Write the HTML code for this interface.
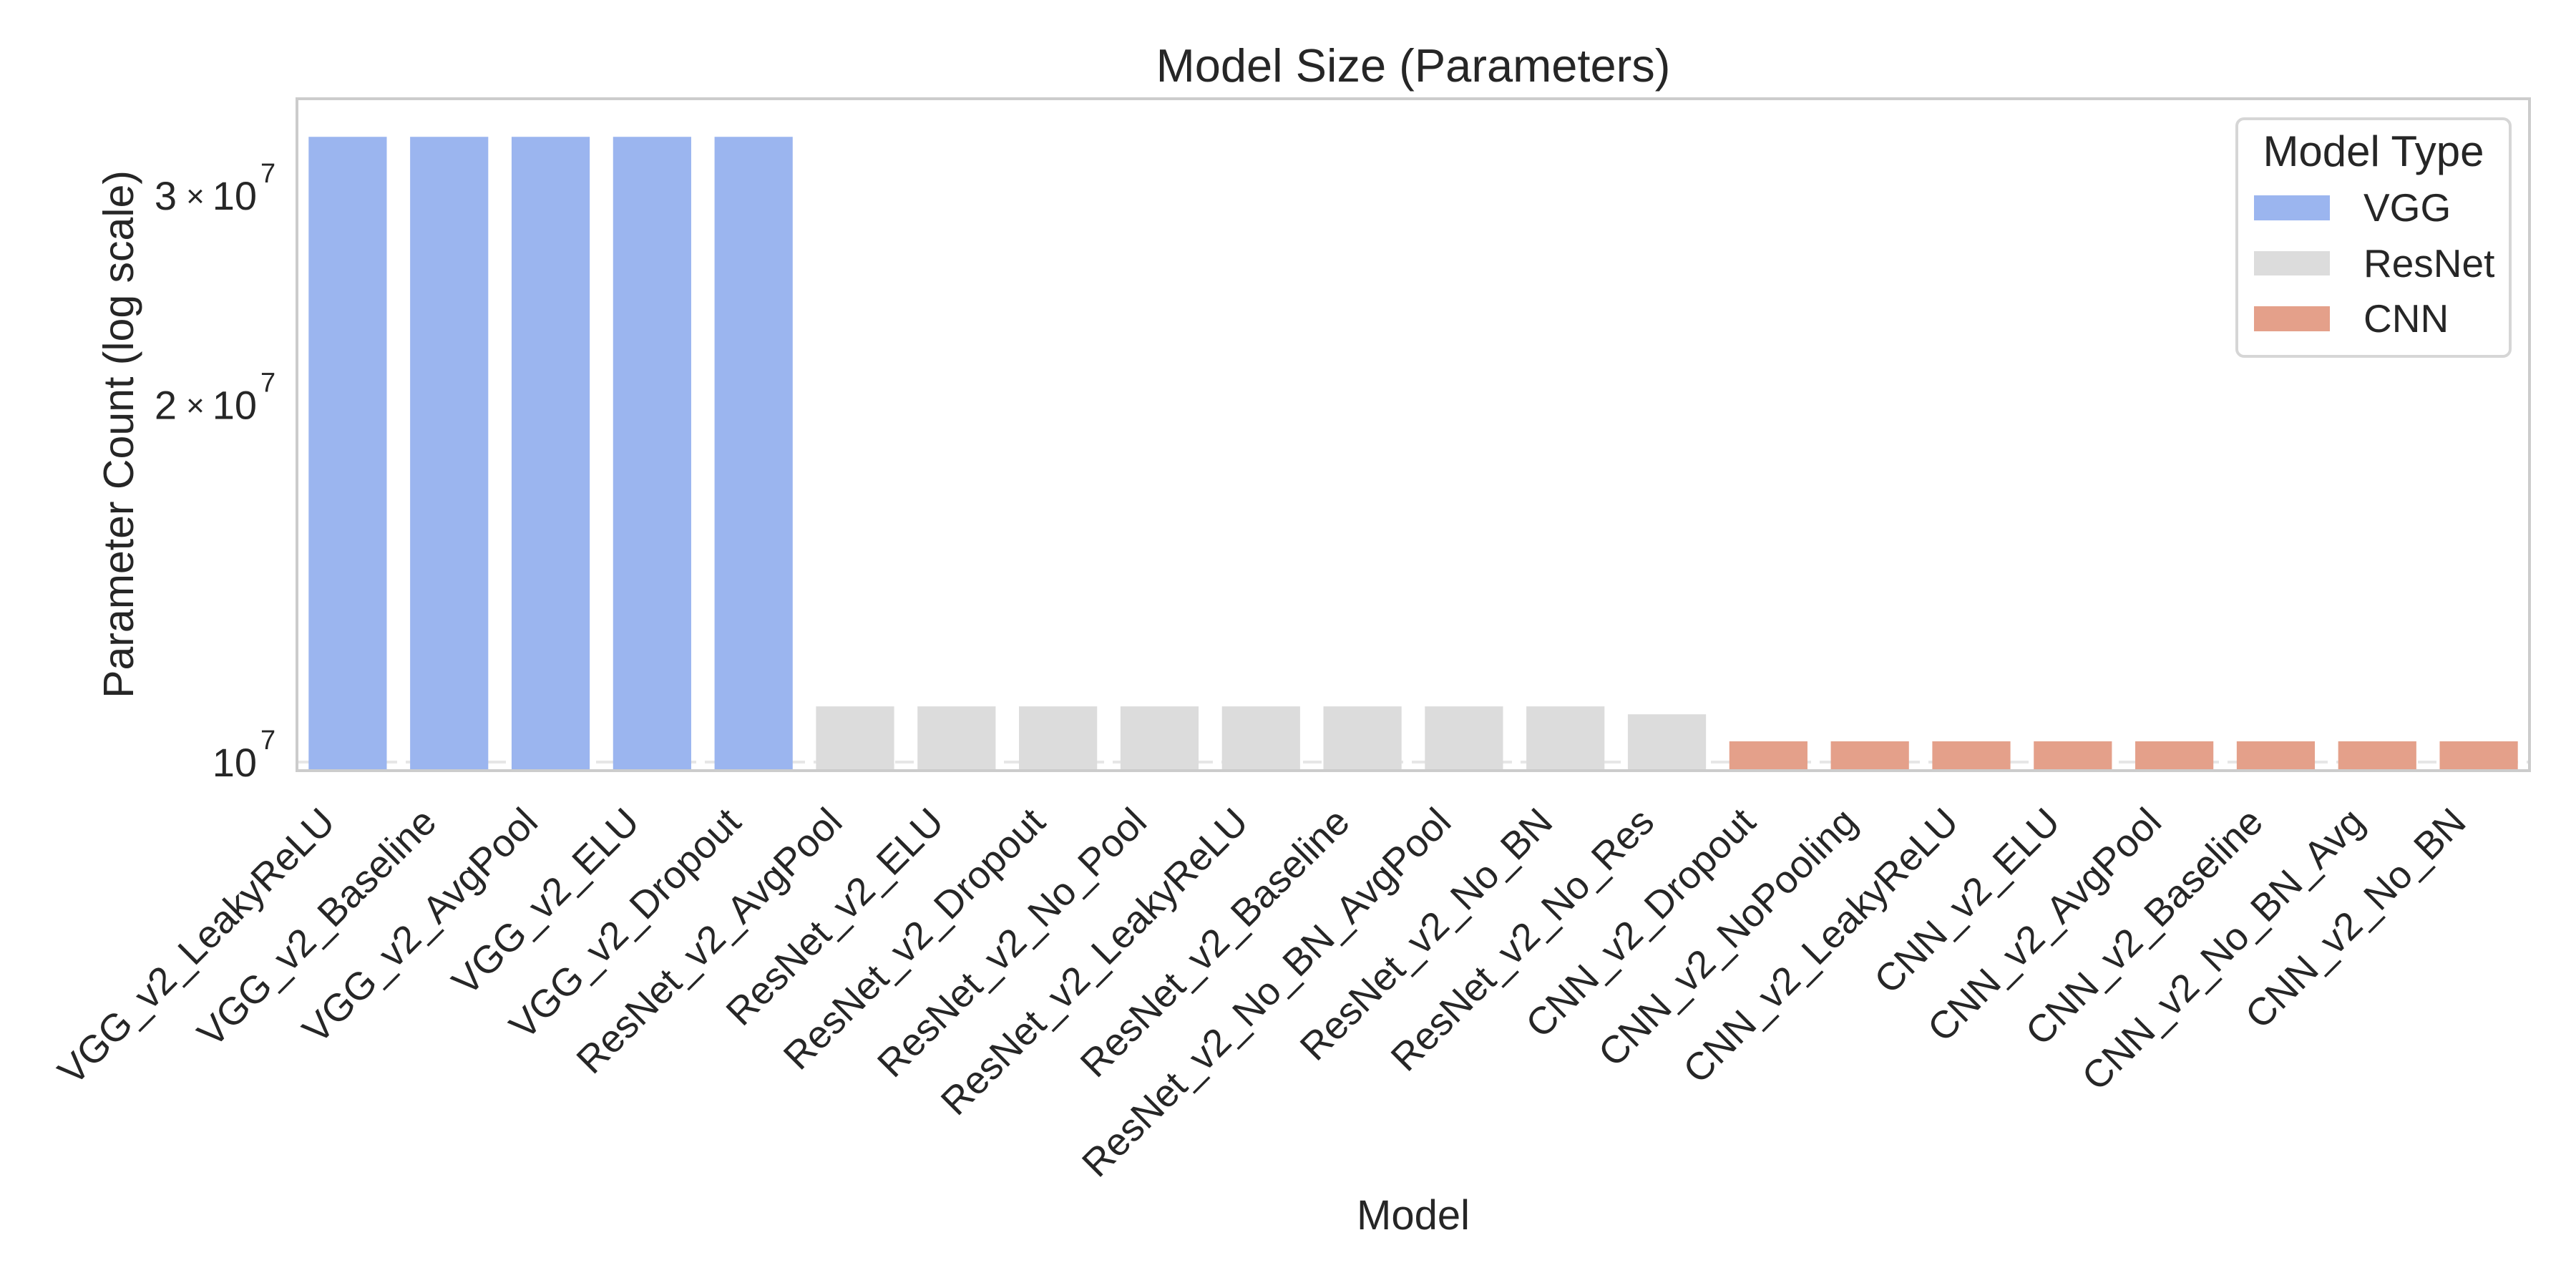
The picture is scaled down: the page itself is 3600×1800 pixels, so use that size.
<!DOCTYPE html>
<html><head><meta charset="utf-8"><style>
html,body{margin:0;padding:0;background:#fff;}
svg{display:block;font-family:"Liberation Sans",Arial,sans-serif;}
</style></head><body>
<svg id="chart" width="3600" height="1800" viewBox="0 0 3600 1800" xmlns="http://www.w3.org/2000/svg">
<rect width="3600" height="1800" fill="#fff"/>
<text x="1975" y="114" font-size="65" text-anchor="middle" fill="#262626">Model Size (Parameters)</text>
<g id="grid"></g>
<g id="bars"></g>
<rect x="415" y="138" width="3120" height="939" fill="none" stroke="#cccccc" stroke-width="4"/>
<g id="yticks"></g>
<g id="xticks"></g>
<text transform="translate(186,607) rotate(-90)" font-size="59" text-anchor="middle" fill="#262626">Parameter Count (log scale)</text>
<text x="1975" y="1718" font-size="58" text-anchor="middle" fill="#262626">Model</text>
<g>
<rect x="3126" y="166" width="382" height="332" rx="10" fill="#fff" stroke="#d6d6d6" stroke-width="4"/>
<text x="3317" y="232" font-size="60" text-anchor="middle" fill="#262626">Model Type</text>
<g><rect x="3150" y="273" width="106" height="35" fill="#9bb5ef"/><text x="3303" y="309" font-size="55" fill="#262626">VGG</text></g>
<g><rect x="3150" y="351" width="106" height="34" fill="#dcdcdc"/><text x="3303" y="387" font-size="55" fill="#262626">ResNet</text></g>
<g><rect x="3150" y="428" width="106" height="35" fill="#e4a08a"/><text x="3303" y="464" font-size="55" fill="#262626">CNN</text></g>
</g>
</svg>
<script>
const categories = ["VGG_v2_LeakyReLU","VGG_v2_Baseline","VGG_v2_AvgPool","VGG_v2_ELU","VGG_v2_Dropout","ResNet_v2_AvgPool","ResNet_v2_ELU","ResNet_v2_Dropout","ResNet_v2_No_Pool","ResNet_v2_LeakyReLU","ResNet_v2_Baseline","ResNet_v2_No_BN_AvgPool","ResNet_v2_No_BN","ResNet_v2_No_Res","CNN_v2_Dropout","CNN_v2_NoPooling","CNN_v2_LeakyReLU","CNN_v2_ELU","CNN_v2_AvgPool","CNN_v2_Baseline","CNN_v2_No_BN_Avg","CNN_v2_No_BN"];
const modelTypes = ["VGG","VGG","VGG","VGG","VGG","ResNet","ResNet","ResNet","ResNet","ResNet","ResNet","ResNet","ResNet","ResNet","CNN","CNN","CNN","CNN","CNN","CNN","CNN","CNN"];
const paramCounts = [33.6e6,33.6e6,33.6e6,33.6e6,33.6e6,11.14e6,11.14e6,11.14e6,11.14e6,11.14e6,11.14e6,11.14e6,11.14e6,10.97e6,10.41e6,10.41e6,10.41e6,10.41e6,10.41e6,10.41e6,10.41e6,10.41e6];
const yTickValues = [1e7,2e7,3e7];
const yTickMantissa = ["","2","3"];
const gridValues = [1e7];

const NS = "http://www.w3.org/2000/svg";
const colors = {VGG:"#9bb5ef", ResNet:"#dcdcdc", CNN:"#e4a08a"};
const L = 415, R = 3535, T = 138, B = 1077;
const logMin = 6.99277, logMax = 7.5584;
function y(v){ return B - (Math.log10(v) - logMin) / (logMax - logMin) * (B - T); }
const step = (R - L) / categories.length;
function xc(i){ return L + step * (i + 0.5); }
const bw = step * 0.77;

const grid = document.getElementById("grid");
gridValues.forEach((v)=>{
  const l = document.createElementNS(NS,"line");
  
  
  l.setAttribute("x1",L); l.setAttribute("x2",R);
  l.setAttribute("y1",y(v)); l.setAttribute("y2",y(v));
  l.setAttribute("stroke","#e6e6e6"); l.setAttribute("stroke-width","4");
  l.setAttribute("stroke-dasharray","26,12");
  grid.appendChild(l);
});

const bars = document.getElementById("bars");
categories.forEach((c,i)=>{
  const r = document.createElementNS(NS,"rect");
  
  
  const top = y(paramCounts[i]);
  r.setAttribute("x", xc(i) - bw/2);
  r.setAttribute("y", top);
  r.setAttribute("width", bw);
  r.setAttribute("height", B - top);
  r.setAttribute("fill", colors[modelTypes[i]]);
  bars.appendChild(r);
});

const yt = document.getElementById("yticks");
yTickValues.forEach((v,i)=>{
  const g = document.createElementNS(NS,"g");
  
  
  const base = y(v) + 20;
  const m = yTickMantissa[i];
  const exp = Math.round(Math.log10(v / (m ? Number(m) : 1)));
  let html = '<text x="359" y="' + base + '" font-size="56" text-anchor="end" fill="#262626">10</text>' +
             '<text x="364" y="' + (base - 38) + '" font-size="38" fill="#262626">' + exp + '</text>';
  if (m) {
    html += '<text x="273" y="' + (base - 4) + '" font-size="44" text-anchor="middle" fill="#262626">×</text>' +
            '<text x="247" y="' + base + '" font-size="56" text-anchor="end" fill="#262626">' + m + '</text>';
  }
  g.innerHTML = html;
  yt.appendChild(g);
});

const xt = document.getElementById("xticks");
categories.forEach((c,i)=>{
  const t = document.createElementNS(NS,"text");
  
  
  const ex = xc(i) - 15, ey = 1152;
  t.setAttribute("transform", "translate(" + ex + "," + ey + ") rotate(-45)");
  t.setAttribute("font-size","54");
  t.setAttribute("text-anchor","end");
  t.setAttribute("fill","#262626");
  t.textContent = c;
  xt.appendChild(t);
});
</script>
</body></html>
